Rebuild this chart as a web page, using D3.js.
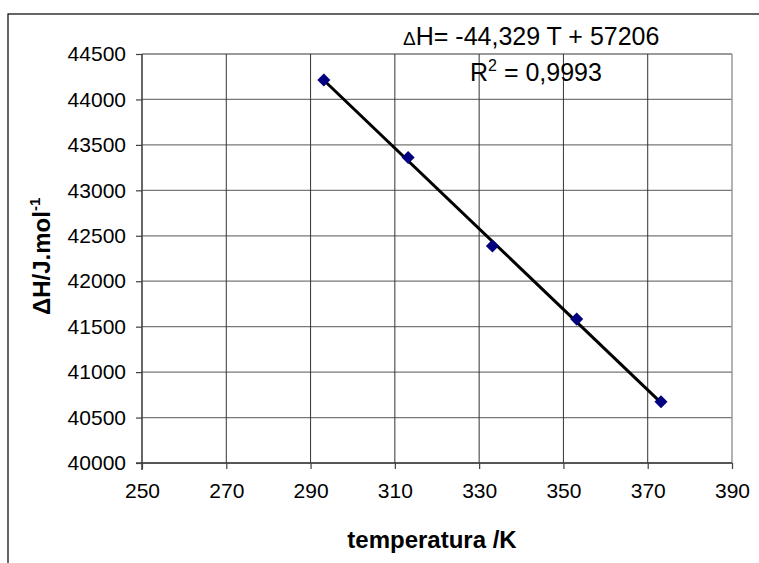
<!DOCTYPE html>
<html lang="es">
  <head>
    <meta charset="utf-8">
    <title>Entalpía vs temperatura</title>
    <script type="text/javascript" src="https://cdn.jsdelivr.net/npm/d3@7"></script>
    <style type="text/css">
      body { margin: 0; background: #fff; }
      text { font-family: "Liberation Sans", Arial, sans-serif; fill: #000; }
    </style>
  </head>
  <body>
    <script type="text/javascript">

      //Data
      var temps = [293.15, 313.15, 333.15, 353.15, 373.15];
      var dH = [44214, 43362, 42388, 41583, 40674];
      var xTicks = [250, 270, 290, 310, 330, 350, 370, 390];
      var yTicks = [40000, 40500, 41000, 41500, 42000, 42500, 43000, 43500, 44000, 44500];
      var slope = -44.329, intercept = 57206;

      var w = 759, h = 563;
      var plotL = 142, plotR = 732, plotT = 54, plotB = 463;

      var xScale = d3.scaleLinear().domain([250, 390]).range([plotL, plotR]);
      var yScale = d3.scaleLinear().domain([40000, 44500]).range([plotB, plotT]);

      var svg = d3.select("body").append("svg")
            .attr("width", w)
            .attr("height", h);

      svg.append("rect").attr("width", w).attr("height", h).attr("fill", "#fff");

      //outer chart border (cut off at right and bottom)
      svg.append("rect")
         .attr("x", 8).attr("y", 14)
         .attr("width", 900).attr("height", 700)
         .attr("fill", "none")
         .attr("stroke", "#000")
         .attr("stroke-width", 1.2);

      //gridlines
      svg.selectAll("line.hgrid")
         .data(yTicks)
         .enter().append("line")
         .attr("class", "hgrid")
         .attr("x1", plotL).attr("x2", plotR)
         .attr("y1", function(d) { return yScale(d); })
         .attr("y2", function(d) { return yScale(d); })
         .attr("stroke", "#777")
         .attr("stroke-width", 1.3);

      svg.selectAll("line.vgrid")
         .data(xTicks.slice(1))
         .enter().append("line")
         .attr("class", "vgrid")
         .attr("y1", plotT).attr("y2", plotB)
         .attr("x1", function(d) { return xScale(d); })
         .attr("x2", function(d) { return xScale(d); })
         .attr("stroke", function(d) { return d === 390 ? "#999" : "#333"; })
         .attr("stroke-width", function(d) { return d === 390 ? 1.5 : 1; });

      //axes
      var xAxis = d3.axisBottom(xScale).tickValues(xTicks).tickSize(6).tickPadding(14);
      var yAxis = d3.axisLeft(yScale).tickValues(yTicks).tickFormat(d3.format("d"))
                    .tickSize(6).tickPadding(10);

      var gx = svg.append("g")
         .attr("transform", "translate(0," + plotB + ")")
         .call(xAxis);
      var gy = svg.append("g")
         .attr("transform", "translate(" + plotL + ",0)")
         .call(yAxis);

      [gx, gy].forEach(function(g) {
        g.select(".domain").attr("stroke", "#404040").attr("stroke-width", 1.6);
        g.selectAll(".tick line").attr("stroke", "#404040").attr("stroke-width", 1.2);
        g.selectAll(".tick text")
         .attr("font-family", "Liberation Sans, Arial, sans-serif")
         .attr("font-size", 21)
         .attr("fill", "#000");
      });
      gy.select(".domain").attr("d", "M0," + (plotB + 7) + "V" + plotT);
      gx.select(".domain").attr("d", "M" + (plotL - 6) + ",0H" + plotR);

      //linear trendline
      var tExt = d3.extent(temps);
      svg.append("line")
         .attr("x1", xScale(tExt[0])).attr("y1", yScale(slope * tExt[0] + intercept))
         .attr("x2", xScale(tExt[1])).attr("y2", yScale(slope * tExt[1] + intercept))
         .attr("stroke", "#000")
         .attr("stroke-width", 3);

      //points
      svg.selectAll("path.pt")
         .data(temps)
         .enter().append("path")
         .attr("class", "pt")
         .attr("d", d3.symbol().type(d3.symbolSquare).size(85))
         .attr("transform", function(d, i) {
            return "translate(" + xScale(d) + "," + yScale(dH[i]) + ") rotate(45)";
         })
         .attr("fill", "#000080");

      //equation label
      var eq = svg.append("text")
         .attr("x", 403).attr("y", 45)
         .attr("font-size", 25);
      eq.append("tspan").attr("font-size", 19).text("\u0394");
      eq.append("tspan").text("H= -44,329 T + 57206");

      var r2 = svg.append("text")
         .attr("x", 470).attr("y", 81)
         .attr("font-size", 25);
      r2.append("tspan").text("R");
      r2.append("tspan").attr("font-size", 16).attr("dy", -10).text("2");
      r2.append("tspan").attr("dy", 10).text(" = 0,9993");

      //axis titles
      svg.append("text")
         .attr("x", 432).attr("y", 548)
         .attr("text-anchor", "middle")
         .attr("font-size", 24)
         .attr("font-weight", "bold")
         .text("temperatura /K");

      var yt = svg.append("text")
         .attr("transform", "translate(50,315) rotate(-90)")
         .attr("font-size", 24)
         .attr("font-weight", "bold");
      yt.append("tspan").text("\u0394H/J.mol");
      yt.append("tspan").attr("font-size", 15).attr("dy", -10).text("-1");

    </script>
  </body>
</html>
